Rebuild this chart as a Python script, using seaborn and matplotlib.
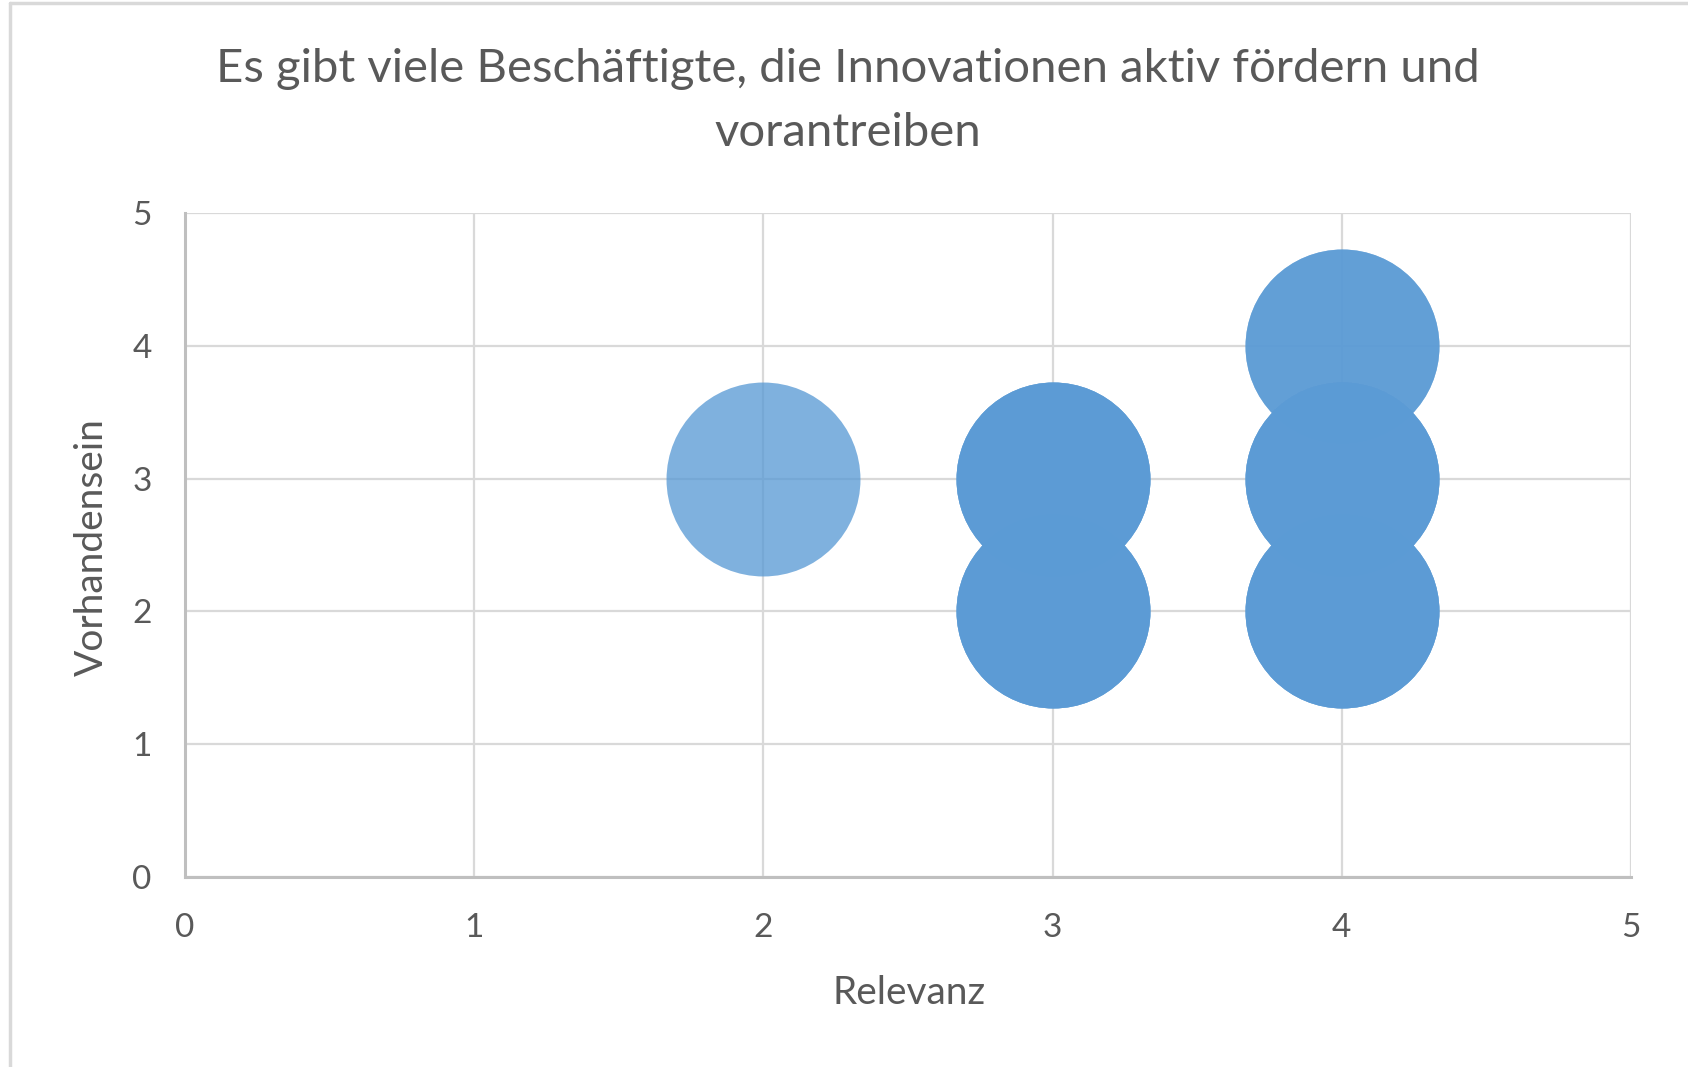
import seaborn as sns
import matplotlib.pyplot as plt
import pandas as pd
from matplotlib.lines import Line2D

# bubble positions (repeated where several answers fall on the same point)
relevanz = [2, 3, 3, 3, 3, 3, 3, 4, 4, 4, 4, 4, 4, 4, 4]
vorhandensein = [3, 2, 2, 2, 3, 3, 3, 4, 4, 2, 2, 2, 3, 3, 3]

title = "Es gibt viele Beschäftigte, die Innovationen aktiv fördern und\nvorantreiben"
x_label = "Relevanz"
y_label = "Vorhandensein"
ticks = [0, 1, 2, 3, 4, 5]

df = pd.DataFrame({"Relevanz": relevanz, "Vorhandensein": vorhandensein})

sns.set_style("white")
plt.rcParams["font.family"] = ["Lato", "DejaVu Sans"]

text_col = "#595959"
grid_col = "#D9D9D9"

fig = plt.figure(figsize=(16.88, 10.67), dpi=100)
ax = fig.add_axes([185 / 1688, 1 - 877 / 1067, (1631 - 185) / 1688, (877 - 213) / 1067])

# draw the bubbles
sns.scatterplot(
    data=df,
    x="Relevanz",
    y="Vorhandensein",
    s=19500,
    color="#5B9BD5",
    alpha=0.78,
    linewidth=0,
    ax=ax,
    zorder=3,
    clip_on=False,
)

ax.set_xlim(0, 5)
ax.set_ylim(0, 5)
ax.set_xticks(ticks)
ax.set_yticks(ticks)
ax.grid(True, color=grid_col, linewidth=1.6, zorder=0)
ax.set_axisbelow(True)

for side in ["top", "right"]:
    ax.spines[side].set_visible(False)
for side in ["left", "bottom"]:
    ax.spines[side].set_color("#BFBFBF")
    ax.spines[side].set_linewidth(2.2)

ax.tick_params(axis="both", direction="out", length=8, width=1.6, color="#BFBFBF",
               labelsize=24, labelcolor=text_col)
ax.tick_params(axis="x", pad=18)
ax.tick_params(axis="y", pad=16)

ax.set_xlabel(x_label, fontsize=28, color=text_col)
ax.set_ylabel(y_label, fontsize=28, color=text_col)
ax.xaxis.set_label_coords(0.501, -0.148)
ax.yaxis.set_label_coords(-0.052, 0.497)

# title
fig.text(0.502, 0.905, title, ha="center", va="center", fontsize=34,
         color=text_col, linespacing=1.65)

# chart area border (top and left visible)
fig.add_artist(Line2D([10 / 1688, 10 / 1688], [0, 1 - 3 / 1067], color=grid_col,
                      linewidth=2.5, transform=fig.transFigure))
fig.add_artist(Line2D([10 / 1688, 1], [1 - 3 / 1067, 1 - 3 / 1067], color=grid_col,
                      linewidth=2.5, transform=fig.transFigure))

fig.savefig("out.png", dpi=100)
